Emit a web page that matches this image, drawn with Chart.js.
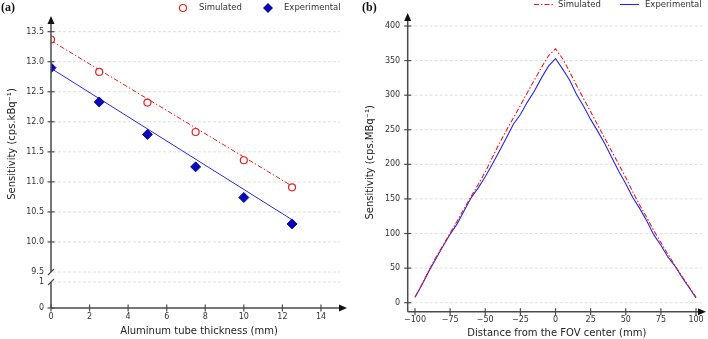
<!DOCTYPE html>
<html>
<head>
<meta charset="utf-8">
<script src="https://cdn.jsdelivr.net/npm/chart.js@4.4.0/dist/chart.umd.min.js"></script>
<style>
body{margin:0;background:#fff;width:708px;height:339px;overflow:hidden;position:relative}
canvas{position:absolute;top:0}
#ca{left:0}
#cb{left:355px}
.lab{position:absolute;top:0px;font:bold 12px 'Liberation Serif',serif;color:#111}
</style>
</head>
<body>
<canvas id="ca" width="355" height="339"></canvas>
<canvas id="cb" width="353" height="339"></canvas>
<div class="lab" style="left:1px">(a)</div>
<div class="lab" style="left:362px">(b)</div>
<script>
// (a) sensitivity vs aluminum tube thickness
const thickness = [0, 2.5, 5, 7.5, 10, 12.5];
const simA = [13.37, 12.83, 12.32, 11.83, 11.36, 10.91];
const expA = [12.90, 12.33, 11.79, 11.25, 10.74, 10.30];
const fitX = [0, 12.5];
const simFit = [13.35, 10.93];
const expFit = [12.89, 10.37];
const xTicksA = [0, 2, 4, 6, 8, 10, 12, 14];
const yTicksTop = [9.5, 10, 10.5, 11, 11.5, 12, 12.5, 13, 13.5];
const yTicksLow = [0, 1];

// (b) axial sensitivity profile
const dist = [-100, -95, -90, -85, -80, -75, -70, -65, -60, -55, -50, -45, -40, -35, -30, -25, -20, -15, -10, -5,
  0, 5, 10, 15, 20, 25, 30, 35, 40, 45, 50, 55, 60, 65, 70, 75, 80, 85, 90, 95, 100];
const simB = [8, 27, 47, 66, 83, 101, 118, 136, 154, 171, 189, 210, 230, 249, 267, 285, 304, 322, 340, 357,
  367, 353, 334, 314, 295, 276, 257, 238, 219, 200, 181, 160, 141, 123, 104, 87, 70, 54, 38, 23, 8];
const expB = [8, 26, 46, 64, 82, 99, 114, 133, 152, 166, 182, 200, 219, 238, 258, 272, 290, 306, 325, 342,
  353, 338, 322, 301, 284, 265, 248, 230, 210, 190, 172, 152, 136, 118, 98, 83, 66, 53, 37, 22, 7];
const xTicksB = [-100, -75, -50, -25, 0, 25, 50, 75, 100];
const yTicksB = [0, 50, 100, 150, 200, 250, 300, 350, 400];

const RED = 'rgb(228,32,36)';
const BLUE_MK = 'rgb(10,10,180)';
const BLUE = 'rgb(40,40,225)';
const DASHDOT = [5, 2, 1.5, 2];

Chart.defaults.font.family = "'DejaVu Sans'";
Chart.defaults.color = '#333';

const pts = (xs, ys) => xs.map((x, i) => ({x: x, y: ys[i]}));
const fixTicks = list => s => { s.ticks = list.map(v => ({value: v})); };

// axes with arrows, cross ticks, dashed grid, broken axis, legend
const axesPlugin = {
  id: 'axes',
  beforeDatasetsDraw(chart, args, o) {
    const {ctx, chartArea: a} = chart;
    ctx.save();
    ctx.strokeStyle = '#d6d6d6';
    ctx.lineWidth = 0.8;
    ctx.setLineDash([3, 2]);
    o.yIds.forEach(id => {
      const s = chart.scales[id];
      s.ticks.forEach(t => {
        const y = s.getPixelForValue(t.value);
        if (y > a.bottom - 2) return;
        ctx.beginPath();
        ctx.moveTo(a.left + 2, y);
        ctx.lineTo(a.right - o.gridGap, y);
        ctx.stroke();
      });
    });
    ctx.restore();
  },
  afterDraw(chart, args, o) {
    const {ctx, chartArea: a} = chart;
    const L = a.left, B = a.bottom;
    ctx.save();
    ctx.strokeStyle = '#4a4a4a';
    ctx.lineWidth = 1.5;
    // y axis line
    let segs = [[a.top + 6, B]];
    let breaks = [];
    if (o.brk) {
      const y1 = chart.scales[o.brk[0]].getPixelForValue(o.brk[1]);
      const y2 = chart.scales[o.brk[2]].getPixelForValue(o.brk[3]);
      segs = [[a.top + 6, y1], [y2, B]];
      breaks = [y1, y2];
    }
    segs.forEach(s => {
      ctx.beginPath(); ctx.moveTo(L, s[0]); ctx.lineTo(L, s[1]); ctx.stroke();
    });
    ctx.lineWidth = 1.1;
    breaks.forEach(y => {
      ctx.beginPath(); ctx.moveTo(L - 3, y + 3); ctx.lineTo(L + 3, y - 3); ctx.stroke();
    });
    // x axis line
    ctx.lineWidth = 1.5;
    ctx.beginPath(); ctx.moveTo(L, B); ctx.lineTo(a.right - 6, B); ctx.stroke();
    // ticks
    ctx.lineWidth = 1.2;
    chart.scales.x.ticks.forEach(t => {
      const x = chart.scales.x.getPixelForValue(t.value);
      ctx.beginPath(); ctx.moveTo(x, B - 3.5); ctx.lineTo(x, B + 3.5); ctx.stroke();
    });
    o.yIds.forEach(id => {
      const s = chart.scales[id];
      s.ticks.forEach(t => {
        const y = s.getPixelForValue(t.value);
        if (breaks.some(b => Math.abs(b - y) < 1)) return;
        ctx.beginPath(); ctx.moveTo(L - 3.5, y); ctx.lineTo(L + 3.5, y); ctx.stroke();
      });
    });
    // arrows
    ctx.fillStyle = '#111';
    ctx.beginPath();
    ctx.moveTo(L, a.top); ctx.lineTo(L - 3.5, a.top + 8); ctx.lineTo(L + 3.5, a.top + 8); ctx.closePath(); ctx.fill();
    ctx.beginPath();
    ctx.moveTo(a.right, B); ctx.lineTo(a.right - 8, B - 3.5); ctx.lineTo(a.right - 8, B + 3.5); ctx.closePath(); ctx.fill();
    // legend
    ctx.font = "8.5px 'DejaVu Sans'";
    ctx.textBaseline = 'middle';
    o.legend.forEach(it => {
      const ds = chart.data.datasets[it.ds];
      const y = o.legendY;
      if (it.kind === 'line') {
        ctx.strokeStyle = ds.borderColor;
        ctx.lineWidth = ds.borderWidth;
        ctx.setLineDash(ds.borderDash || []);
        ctx.beginPath(); ctx.moveTo(it.x, y); ctx.lineTo(it.x + 19, y); ctx.stroke();
        ctx.setLineDash([]);
      } else if (it.kind === 'circle') {
        ctx.strokeStyle = ds.borderColor; ctx.lineWidth = ds.borderWidth;
        ctx.fillStyle = '#fff';
        ctx.beginPath(); ctx.arc(it.x, y, ds.pointRadius, 0, Math.PI * 2); ctx.fill(); ctx.stroke();
      } else {
        const r = ds.pointRadius;
        ctx.fillStyle = ds.backgroundColor;
        ctx.beginPath(); ctx.moveTo(it.x, y - r); ctx.lineTo(it.x + r, y); ctx.lineTo(it.x, y + r); ctx.lineTo(it.x - r, y); ctx.closePath(); ctx.fill();
      }
      ctx.fillStyle = '#333';
      ctx.fillText(it.text, it.tx, y);
    });
    ctx.restore();
  }
};

const hidden = {grid: {display: false, drawTicks: false}, border: {display: false}};

new Chart(document.getElementById('ca'), {
  type: 'scatter',
  data: {
    datasets: [
      {label: 'Simulated', data: pts(thickness, simA), yAxisID: 'y', pointStyle: 'circle', pointRadius: 3.5,
        borderColor: RED, backgroundColor: '#fff', borderWidth: 1.2},
      {label: 'Experimental', data: pts(thickness, expA), yAxisID: 'y', pointStyle: 'rectRot', pointRadius: 5,
        borderColor: BLUE_MK, backgroundColor: BLUE_MK, borderWidth: 1},
      {label: 'Simulated fit', data: pts(fitX, simFit), yAxisID: 'y', showLine: true, pointRadius: 0,
        borderColor: RED, borderWidth: 1, borderDash: DASHDOT},
      {label: 'Experimental fit', data: pts(fitX, expFit), yAxisID: 'y', showLine: true, pointRadius: 0,
        borderColor: BLUE, borderWidth: 1}
    ]
  },
  options: {
    responsive: false,
    animation: false,
    layout: {padding: {top: 16, right: 8, left: 0, bottom: 0}},
    plugins: {
      legend: {display: false},
      tooltip: {enabled: false},
      axes: {
        yIds: ['y', 'y2'], gridGap: 7, brk: ['y', 9.5, 'y2', 1], legendY: 8,
        legend: [
          {ds: 0, kind: 'circle', x: 183, tx: 199, text: 'Simulated'},
          {ds: 1, kind: 'diamond', x: 268, tx: 284, text: 'Experimental'}
        ]
      }
    },
    scales: {
      x: {type: 'linear', min: 0, max: 15.35, ...hidden,
        afterBuildTicks: fixTicks(xTicksA), afterFit: s => { s.height = 31; },
        ticks: {padding: 4, font: {size: 8}},
        title: {display: true, text: 'Aluminum tube thickness (mm)', font: {size: 10}, color: '#222', padding: {top: 0, bottom: 2}}},
      y2: {type: 'linear', position: 'left', stack: 'a', stackWeight: 36, min: 0, max: 1.385, ...hidden,
        afterBuildTicks: fixTicks(yTicksLow), afterFit: s => { s.width = 51; },
        ticks: {padding: 7, font: {size: 8}}},
      y: {type: 'linear', position: 'left', stack: 'a', stackWeight: 256, min: 9.5, max: 13.761, ...hidden,
        afterBuildTicks: fixTicks(yTicksTop), afterFit: s => { s.width = 51; },
        ticks: {padding: 7, font: {size: 8}, callback: v => v.toFixed(1)},
        title: {display: true, text: 'Sensitivity (cps.kBq⁻¹)', font: {size: 10}, color: '#222', padding: {top: 6.5, bottom: 0}}}
    }
  },
  plugins: [axesPlugin]
});

new Chart(document.getElementById('cb'), {
  type: 'line',
  data: {
    labels: dist,
    datasets: [
      {label: 'Simulated', data: pts(dist, simB), borderColor: RED, borderWidth: 1.1, borderDash: DASHDOT,
        pointRadius: 0, tension: 0},
      {label: 'Experimental', data: pts(dist, expB), borderColor: BLUE, borderWidth: 1.1,
        pointRadius: 0, tension: 0}
    ]
  },
  options: {
    responsive: false,
    animation: false,
    layout: {padding: {top: 13, right: 2, left: 0, bottom: 0}},
    plugins: {
      legend: {display: false},
      tooltip: {enabled: false},
      axes: {
        yIds: ['y'], gridGap: 4, legendY: 4.5,
        legend: [
          {ds: 0, kind: 'line', x: 179, tx: 203, text: 'Simulated'},
          {ds: 1, kind: 'line', x: 265, tx: 290, text: 'Experimental'}
        ]
      }
    },
    scales: {
      x: {type: 'linear', min: -105.19, max: 107.1, ...hidden,
        afterBuildTicks: fixTicks(xTicksB), afterFit: s => { s.height = 27.3; },
        ticks: {padding: 3.5, font: {size: 8}, callback: v => String(v).replace('-', '\u2212')},
        title: {display: true, text: 'Distance from the FOV center (mm)', font: {size: 10}, color: '#222', padding: {top: 0, bottom: 0}}},
      y: {type: 'linear', min: -13.01, max: 418.8, ...hidden,
        afterBuildTicks: fixTicks(yTicksB), afterFit: s => { s.width = 52.7; },
        ticks: {padding: 7.5, font: {size: 8}},
        title: {display: true, text: 'Sensitivity (cps.MBq⁻¹)', font: {size: 10}, color: '#222', padding: {top: 9, bottom: 0}}}
    }
  },
  plugins: [axesPlugin]
});
</script>
</body>
</html>
